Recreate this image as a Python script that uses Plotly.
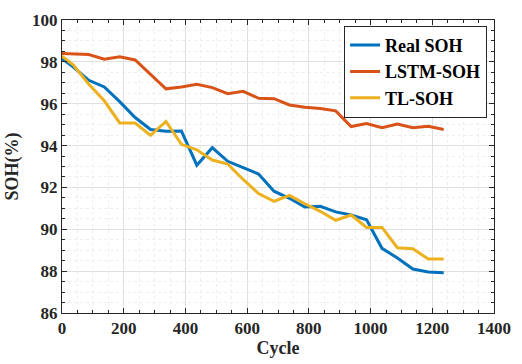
import plotly.graph_objects as go

cycles = [0, 37, 87, 137, 187, 237, 287, 337, 387, 437, 487, 537, 587, 637,
          687, 737, 787, 837, 887, 937, 987, 1037, 1087, 1137, 1187, 1237]
real_soh = [98.15, 97.75, 97.12, 96.8, 96.1, 95.34, 94.77, 94.68, 94.69, 93.06,
            93.9, 93.25, 92.95, 92.64, 91.82, 91.48, 91.06, 91.1, 90.83, 90.68,
            90.45, 89.09, 88.63, 88.1, 87.96, 87.92]
lstm_soh = [98.4, 98.38, 98.35, 98.13, 98.24, 98.09, 97.4, 96.71, 96.8, 96.93,
            96.77, 96.48, 96.59, 96.26, 96.24, 95.94, 95.83, 95.77, 95.66, 94.91,
            95.05, 94.85, 95.03, 94.85, 94.92, 94.77]
tl_soh = [98.27, 97.85, 96.93, 96.14, 95.08, 95.08, 94.49, 95.15, 94.06, 93.8,
          93.31, 93.12, 92.38, 91.71, 91.33, 91.62, 91.22, 90.86, 90.43, 90.68,
          90.09, 90.09, 89.12, 89.07, 88.58, 88.58]

names = ["Real SOH", "LSTM-SOH", "TL-SOH"]
colors = ["#0072BD", "#D95319", "#EDB120"]

FONT = "Liberation Serif, Times New Roman, serif"

fig = go.Figure()
for name, ys, c in zip(names, [real_soh, lstm_soh, tl_soh], colors):
    fig.add_trace(go.Scatter(x=cycles, y=ys, mode="lines", name=name,
                             line=dict(color=c, width=3)))

axis_common = dict(
    showline=True, linecolor="#262626", linewidth=1, mirror="allticks",
    ticks="inside", ticklen=5, tickcolor="#262626",
    showgrid=True, gridcolor="#e0e0e0", gridwidth=1,
    zeroline=False,
    tickfont=dict(family=FONT, size=17, color="#262626", weight="bold"),
)

fig.update_xaxes(
    range=[0, 1400], dtick=200, tick0=0,
    title=dict(text="Cycle", font=dict(family=FONT, size=18, color="#262626", weight="bold"), standoff=2),
    minor=dict(dtick=50, ticks="inside", ticklen=3, tickcolor="#262626",
               showgrid=True, gridcolor="#eeeeee", griddash="dot"),
    **axis_common)
fig.update_yaxes(
    range=[86, 100], dtick=2, tick0=86,
    title=dict(text="SOH(%)", font=dict(family=FONT, size=18, color="#262626", weight="bold"), standoff=8),
    minor=dict(dtick=0.5, ticks="inside", ticklen=3, tickcolor="#262626",
               showgrid=True, gridcolor="#eeeeee", griddash="dot"),
    **axis_common)

fig.update_layout(
    width=522, height=364,
    margin=dict(l=62, r=25, t=11, b=50),
    paper_bgcolor="white", plot_bgcolor="white",
    showlegend=True,
    legend=dict(x=0.984, y=0.98, xanchor="right", yanchor="top",
                bgcolor="white", bordercolor="#262626", borderwidth=1,
                font=dict(family=FONT, size=18, color="black", weight="bold"),
                tracegroupgap=0, itemwidth=30),
)

fig.write_html("out.html")
